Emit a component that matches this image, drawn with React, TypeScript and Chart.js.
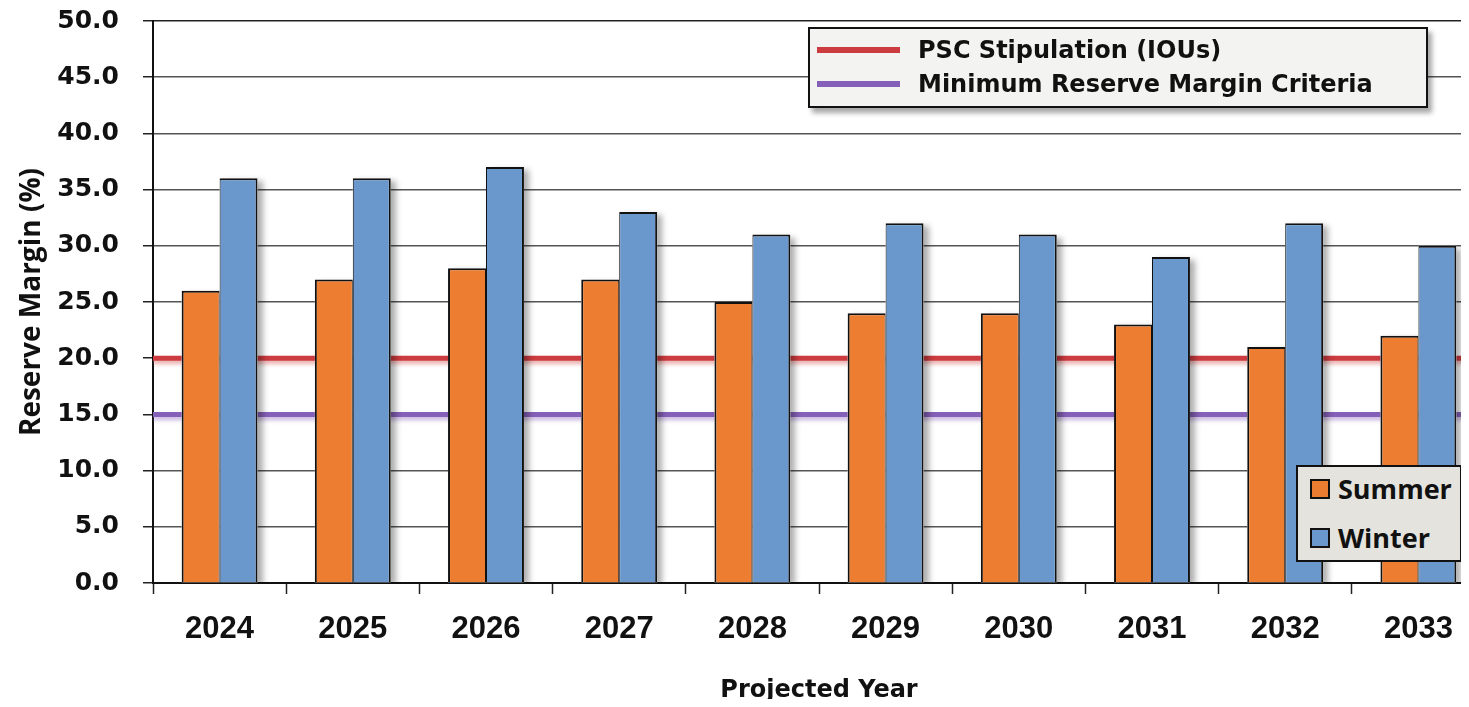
import React, { useEffect, useRef } from 'react';
import { Chart, registerables } from 'chart.js';

Chart.register(...registerables);

// ---- data ----
const years = ['2024', '2025', '2026', '2027', '2028', '2029', '2030', '2031', '2032', '2033'];
const summerMargin = [26, 27, 28, 27, 25, 24, 24, 23, 21, 22];
const winterMargin = [36, 36, 37, 33, 31, 32, 31, 29, 32, 30];
const referenceValues = [20, 15]; // PSC stipulation, minimum reserve margin
const yAxisMin = 0;
const yAxisMax = 50;
const yAxisStep = 5;

// ---- labels ----
const seriesLabels = ['Summer', 'Winter'];
const referenceLabels = ['PSC Stipulation (IOUs)', 'Minimum Reserve Margin Criteria'];

// ---- colours ----
const ORANGE = '#ed7d31';
const BLUE = '#6a98cd';
const INK = '#111111';
const referenceColors = ['#cc3b3f', '#8560b8'];
const referenceGlows = ['rgba(215,90,90,0.55)', 'rgba(140,100,190,0.5)'];

const BOLD_WIDE = '"DejaVu Sans", Verdana, sans-serif';
const BOLD_ARIAL = '"Liberation Sans", Arial, sans-serif';
const BOLD_OPEN = '"Open Sans", "Noto Sans", sans-serif';

// Horizontal reference levels across the plot, then soft drop shadows for
// the bars; both go in before the bars themselves are drawn.
const underlayPlugin = {
  id: 'underlay',
  beforeDatasetsDraw(chart: any) {
    const ctx = chart.ctx as CanvasRenderingContext2D;
    const a = chart.chartArea;
    const yScale = chart.scales.y;
    ctx.save();
    ctx.beginPath();
    ctx.rect(a.left, a.top, a.right - a.left, a.bottom - a.top);
    ctx.clip();

    referenceValues.forEach((v, i) => {
      const py = yScale.getPixelForValue(v);
      ctx.save();
      ctx.shadowColor = referenceGlows[i];
      ctx.shadowBlur = 4;
      ctx.shadowOffsetY = 3;
      ctx.strokeStyle = referenceColors[i];
      ctx.lineWidth = 5;
      ctx.beginPath();
      ctx.moveTo(a.left, py);
      ctx.lineTo(a.right, py);
      ctx.stroke();
      ctx.restore();
    });

    ctx.shadowColor = 'rgba(0,0,0,0.32)';
    ctx.shadowBlur = 6;
    ctx.shadowOffsetX = 5;
    ctx.shadowOffsetY = 3;
    ctx.fillStyle = '#ffffff';
    chart.data.datasets.forEach((_d: any, i: number) => {
      chart.getDatasetMeta(i).data.forEach((bar: any) => {
        const { x, y, base, width } = bar.getProps(['x', 'y', 'base', 'width'], true);
        ctx.fillRect(x - width / 2, y, width, base - y);
      });
    });
    ctx.restore();
  },
};

export default function App() {
  const canvasRef = useRef<HTMLCanvasElement>(null);

  useEffect(() => {
    const chart = new Chart(canvasRef.current as HTMLCanvasElement, {
      type: 'bar',
      data: {
        labels: years,
        datasets: [
          {
            label: seriesLabels[0],
            data: summerMargin,
            backgroundColor: ORANGE,
            borderColor: INK,
            borderWidth: { top: 2, left: 2, right: 1, bottom: 0 },
            borderSkipped: false,
          },
          {
            label: seriesLabels[1],
            data: winterMargin,
            backgroundColor: BLUE,
            borderColor: INK,
            borderWidth: { top: 2, left: 1, right: 2, bottom: 0 },
            borderSkipped: false,
          },
        ],
      },
      options: {
        responsive: false,
        animation: false,
        events: [],
        layout: { padding: { top: 21, right: 15, left: 0, bottom: 0 } },
        plugins: { legend: { display: false }, tooltip: { enabled: false } },
        datasets: { bar: { categoryPercentage: 0.57, barPercentage: 1 } },
        scales: {
          x: {
            type: 'category',
            offset: true,
            grid: {
              offset: true,
              drawOnChartArea: false,
              drawTicks: true,
              tickLength: 11,
              tickColor: '#222',
              tickWidth: 1.5,
            },
            border: { display: true, color: INK, width: 2 },
            ticks: {
              color: INK,
              font: { family: BOLD_ARIAL, size: 31, weight: 'bold' },
              padding: 17,
              maxRotation: 0,
              autoSkip: false,
            },
            title: {
              display: true,
              text: 'Projected Year',
              color: INK,
              font: { family: BOLD_WIDE, size: 24, weight: 'bold' },
              padding: { top: 0, bottom: 2 },
            },
            afterFit: (s: any) => {
              s.height = 124;
            },
          },
          y: {
            min: yAxisMin,
            max: yAxisMax,
            ticks: {
              stepSize: yAxisStep,
              callback: (v: any) => Number(v).toFixed(1),
              color: INK,
              font: { family: BOLD_WIDE, size: 25, weight: 'bold' },
              padding: 24,
            },
            grid: {
              color: (c: any) => (c.tick && c.tick.value === yAxisMax ? '#222' : '#555'),
              lineWidth: 1.5,
              tickLength: 10,
              tickColor: '#222',
            },
            border: { display: true, color: INK, width: 2 },
            title: {
              display: true,
              text: 'Reserve Margin (%)',
              color: INK,
              font: { family: BOLD_OPEN, size: 28, weight: 'bold' },
              padding: { top: 15, bottom: 0 },
            },
            afterFit: (s: any) => {
              s.width = 153;
              s.paddingTop = 15;
              s.paddingBottom = 15;
            },
          },
        } as any,
      },
      plugins: [underlayPlugin],
    } as any);
    return () => chart.destroy();
  }, []);

  const refLegend = referenceLabels.map((label, i) => ({ label, color: referenceColors[i] }));
  const seriesLegend = [
    { label: seriesLabels[0], color: ORANGE },
    { label: seriesLabels[1], color: BLUE },
  ];

  return (
    <div
      style={{
        position: 'relative',
        margin: -8,
        width: 1469,
        height: 707,
        overflow: 'hidden',
        background: '#ffffff',
      }}
    >
      <canvas
        ref={canvasRef}
        width={1500}
        height={707}
        style={{ position: 'absolute', left: 0, top: 0, display: 'block' }}
      />
      <div
        style={{
          position: 'absolute',
          left: 808,
          top: 27,
          width: 620,
          height: 81,
          boxSizing: 'border-box',
          border: '2px solid #111',
          background: '#f3f3f1',
          boxShadow: '4px 5px 5px rgba(0,0,0,0.35)',
        }}
      >
        {refLegend.map((item, i) => (
          <div
            key={item.label}
            style={{
              position: 'absolute',
              left: 7,
              top: 4 + i * 34,
              height: 34,
              display: 'flex',
              alignItems: 'center',
              whiteSpace: 'nowrap',
            }}
          >
            <div style={{ width: 83, height: 6, background: item.color, marginRight: 18 }} />
            <span
              style={{
                fontFamily: BOLD_WIDE,
                fontWeight: 'bold',
                fontSize: 24,
                color: INK,
                lineHeight: '34px',
              }}
            >
              {item.label}
            </span>
          </div>
        ))}
      </div>
      <div
        style={{
          position: 'absolute',
          left: 1296,
          top: 465,
          width: 166,
          height: 97,
          boxSizing: 'border-box',
          border: '2px solid #111',
          background: '#e5e3dd',
        }}
      >
        {seriesLegend.map((item, i) => (
          <div
            key={item.label}
            style={{
              position: 'absolute',
              left: 12,
              top: 2 + i * 49,
              height: 40,
              display: 'flex',
              alignItems: 'center',
              whiteSpace: 'nowrap',
            }}
          >
            <div
              style={{
                width: 20,
                height: 20,
                boxSizing: 'border-box',
                border: '2px solid #111',
                background: item.color,
                marginRight: 8,
              }}
            />
            <span
              style={{
                fontFamily: BOLD_OPEN,
                fontWeight: 'bold',
                fontSize: 27,
                color: INK,
                lineHeight: '40px',
              }}
            >
              {item.label}
            </span>
          </div>
        ))}
      </div>
    </div>
  );
}
